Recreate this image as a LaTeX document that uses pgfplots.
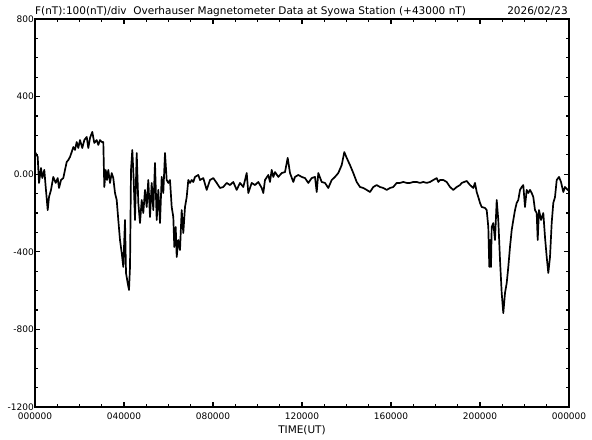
\documentclass[border=0pt]{standalone}
\usepackage{fontspec}
\setmainfont{DejaVu Sans}
\usepackage{pgfplots}
\pgfplotsset{compat=1.18}
\begin{document}
\begin{tikzpicture}
\begin{axis}[
  scale only axis,
  width=534bp, height=388bp,
  at={(0,0)}, anchor=south west,
  xmin=0, xmax=24, ymin=-1200, ymax=800,
  xtick={0,4,8,12,16,20,24},
  xticklabels={000000,040000,080000,120000,160000,200000,000000},
  ytick={-1200,-800,-400,0,400,800},
  yticklabels={-1200,-800,-400,0.00,400,800},
  minor x tick num=3,
  minor y tick num=3,
  tick align=inside,
  major tick length=5bp,
  minor tick length=3bp,
  tick style={line width=1.2pt, black},
  axis line style={line width=1.5pt},
  ticklabel style={font=\fontsize{9bp}{10bp}\selectfont},
  xticklabel style={inner sep=1bp, yshift=-5bp},
  yticklabel style={inner sep=1bp},
  xlabel={TIME(UT)},
  xlabel style={at={(axis description cs:0.5,0)}, anchor=north, yshift=-18bp, inner sep=0pt, font=\fontsize{10.5bp}{11bp}\selectfont},
  clip=false,
]
\addplot[black, line width=1.7pt, line join=round] coordinates {
(0,114)(0.121,90)(0.180,-45)(0.270,32)(0.328,-20)(0.418,22)(0.481,-66)(0.571,-185)
(0.629,-118)(0.719,-81)(0.822,-14)(0.930,-45)(1.020,-20)(1.079,-71)(1.169,-30)(1.272,-20)
(1.348,22)(1.425,63)(1.497,73)(1.573,89)(1.649,114)(1.721,140)(1.798,125)(1.874,166)
(1.946,135)(2.022,176)(2.126,135)(2.216,176)(2.324,192)(2.396,135)(2.472,187)(2.575,218)
(2.665,161)(2.773,176)(2.845,151)(2.921,176)(2.998,166)(3.070,166)(3.115,-66)(3.178,22)
(3.236,-30)(3.294,22)(3.371,-45)(3.447,6)(3.519,-20)(3.596,-97)(3.672,-133)(3.744,-236)
(3.820,-339)(3.897,-406)(3.969,-478)(4.045,-236)(4.090,-509)(4.166,-561)(4.225,-597)(4.270,-478)
(4.315,22)(4.373,125)(4.436,-30)(4.494,-236)(4.571,109)(4.643,-148)(4.719,-252)(4.796,-133)
(4.867,-200)(4.944,-81)(5.020,-169)(5.092,-30)(5.169,-221)(5.245,-45)(5.317,-185)(5.393,58)
(5.470,-236)(5.542,-81)(5.618,-252)(5.694,-14)(5.766,-97)(5.843,109)(5.919,-30)(5.991,-45)
(6.067,-30)(6.144,-169)(6.216,-221)(6.261,-375)(6.324,-272)(6.369,-427)(6.440,-339)(6.517,-391)
(6.593,-185)(6.665,-303)(6.742,-169)(6.818,-118)(6.890,-30)(6.966,-45)(7.043,-30)(7.115,-40)
(7.191,-14)(7.339,-4)(7.416,-30)(7.564,-20)(7.717,-81)(7.865,-30)(8.013,-20)(8.166,-45)
(8.315,-71)(8.463,-66)(8.616,-45)(8.764,-56)(8.912,-40)(9.065,-81)(9.213,-45)(9.362,-66)
(9.515,6)(9.587,-97)(9.739,-45)(9.888,-56)(10.036,-40)(10.189,-71)(10.261,-97)(10.337,-30)
(10.485,-4)(10.562,-40)(10.638,22)(10.710,-14)(10.787,11)(10.935,-14)(11.088,6)(11.236,11)
(11.357,84)(11.461,6)(11.609,-40)(11.685,-14)(11.834,-4)(11.987,-14)(12.135,-20)(12.283,-45)
(12.436,-20)(12.584,-14)(12.661,-92)(12.733,6)(12.885,-40)(13.034,-45)(13.182,-71)(13.335,-30)
(13.483,-14)(13.631,6)(13.784,47)(13.901,114)(14.009,84)(14.157,47)(14.306,6)(14.458,-40)
(14.607,-66)(14.755,-71)(14.908,-81)(15.056,-92)(15.204,-66)(15.357,-56)(15.506,-66)(15.654,-71)
(15.807,-81)(15.955,-71)(16.103,-66)(16.256,-45)(16.404,-45)(16.553,-40)(16.706,-45)(16.854,-45)
(17.002,-40)(17.155,-40)(17.303,-45)(17.452,-40)(17.604,-45)(17.753,-40)(17.901,-30)(18.054,-20)
(18.126,-40)(18.202,-30)(18.351,-30)(18.503,-40)(18.652,-66)(18.800,-81)(18.953,-66)(19.101,-56)
(19.178,-45)(19.402,-35)(19.551,-56)(19.699,-71)(19.775,-45)(19.852,-92)(19.924,-118)(20.000,-148)
(20.076,-169)(20.225,-174)(20.301,-185)(20.373,-272)(20.418,-478)(20.449,-339)(20.494,-478)(20.526,-272)
(20.598,-252)(20.674,-339)(20.751,-133)(20.822,-236)(20.899,-442)(20.975,-612)(21.047,-716)(21.124,-612)
(21.200,-561)(21.272,-478)(21.348,-375)(21.425,-288)(21.497,-236)(21.573,-185)(21.649,-148)(21.721,-133)
(21.798,-81)(21.874,-66)(21.946,-56)(22.022,-169)(22.099,-81)(22.171,-97)(22.247,-81)(22.324,-97)
(22.396,-118)(22.472,-185)(22.548,-200)(22.593,-339)(22.652,-185)(22.742,-236)(22.845,-200)(22.921,-324)
(22.998,-427)(23.070,-509)(23.146,-427)(23.222,-252)(23.294,-148)(23.371,-118)(23.447,-30)(23.551,-14)
(23.640,-40)(23.744,-92)(23.820,-66)(23.942,-81)(24.000,-81)
};
\node[anchor=base west, inner sep=0pt, font=\fontsize{10.5bp}{11bp}\selectfont] at (rel axis cs:0,1) [yshift=4bp]
  {F(nT):100(nT)/div\ \ Overhauser Magnetometer Data at Syowa Station (+43000 nT)};
\node[anchor=base east, inner sep=0pt, font=\fontsize{10.5bp}{11bp}\selectfont] at (rel axis cs:1,1) [yshift=4bp, xshift=-1bp]
  {2026/02/23};
\end{axis}
\pgfresetboundingbox
\path[use as bounding box] (-35bp,-33bp) rectangle (557bp,407bp);
\end{tikzpicture}
\end{document}
